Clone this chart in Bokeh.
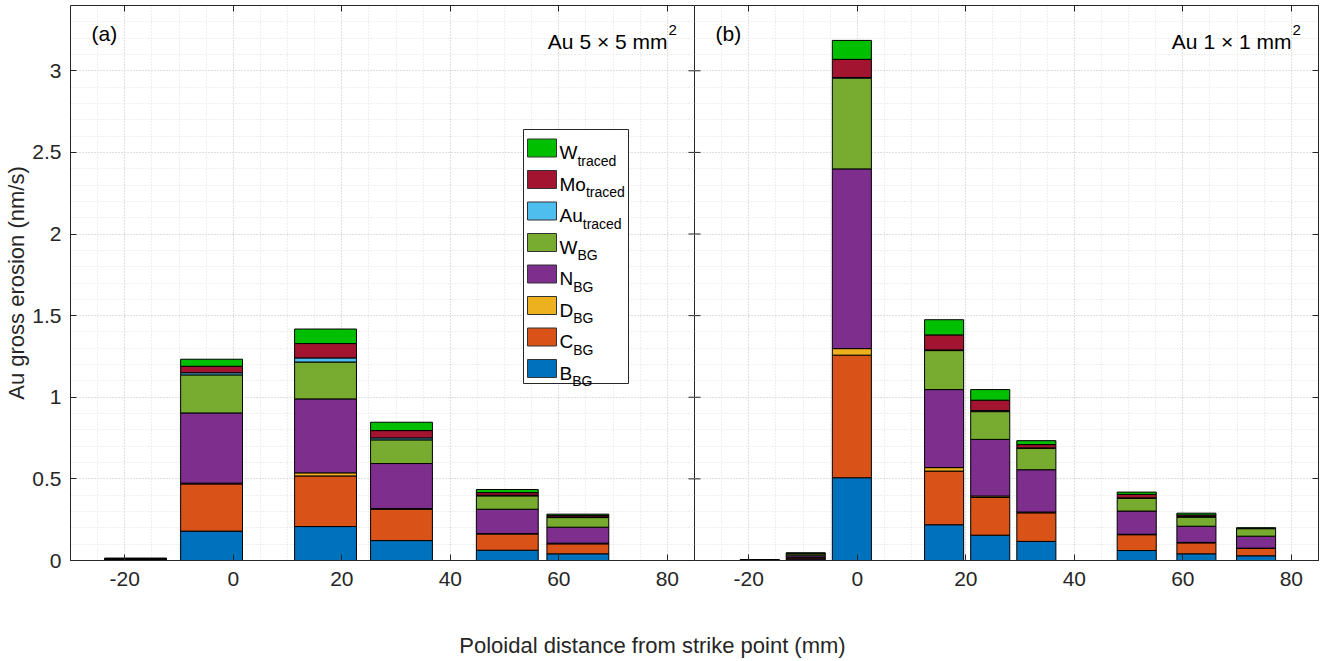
import numpy as np
from bokeh.plotting import figure
from bokeh.layouts import row, column
from bokeh.models import Range1d, FixedTicker, LinearAxis, CustomJSTickFormatter, ColumnDataSource
from bokeh.embed import file_html
from bokeh.resources import INLINE
from bokeh.core.properties import value

# ---------------- data ----------------
species = ["B_BG", "C_BG", "D_BG", "N_BG", "W_BG", "Au_traced", "Mo_traced", "W_traced"]
colors = ["#0072BD", "#D95319", "#EDB120", "#7E2F8E", "#77AC30", "#4DBEEE", "#A2142F", "#00BF00"]
x_ticks = [-20, 0, 20, 40, 60, 80]
y_ticks = [0, 0.5, 1, 1.5, 2, 2.5, 3]

# panel (a): Au 5 x 5 mm^2
pos_a = [-18, -4, 17, 31, 50.5, 63.5]
B_a = [0.004, 0.180, 0.208, 0.122, 0.063, 0.041]
C_a = [0.004, 0.289, 0.310, 0.192, 0.100, 0.061]
D_a = [0.001, 0.005, 0.019, 0.004, 0.002, 0.004]
N_a = [0.002, 0.430, 0.453, 0.276, 0.149, 0.098]
WBG_a = [0.001, 0.233, 0.226, 0.145, 0.082, 0.059]
Au_a = [0.0005, 0.013, 0.025, 0.012, 0.004, 0.004]
Mo_a = [0.0005, 0.040, 0.088, 0.045, 0.016, 0.009]
Wt_a = [0.0005, 0.043, 0.089, 0.051, 0.019, 0.008]

# panel (b): Au 1 x 1 mm^2
pos_b = [-18, -9.5, -1, 16, 24.5, 33, 51.5, 62.5, 73.5]
B_b = [0.001, 0.008, 0.507, 0.219, 0.155, 0.117, 0.061, 0.041, 0.029]
C_b = [0.001, 0.008, 0.751, 0.329, 0.231, 0.175, 0.097, 0.067, 0.045]
D_b = [0.0003, 0.001, 0.040, 0.021, 0.009, 0.005, 0.003, 0.003, 0.002]
N_b = [0.001, 0.012, 1.101, 0.478, 0.347, 0.259, 0.142, 0.099, 0.073]
WBG_b = [0.0005, 0.012, 0.556, 0.239, 0.170, 0.130, 0.077, 0.056, 0.046]
Au_b = [0.0002, 0.001, 0.004, 0.004, 0.006, 0.004, 0.004, 0.003, 0.001]
Mo_b = [0.0003, 0.002, 0.111, 0.092, 0.064, 0.020, 0.021, 0.010, 0.002]
Wt_b = [0.0003, 0.003, 0.116, 0.093, 0.065, 0.024, 0.014, 0.011, 0.002]

legend_main = ["W", "Mo", "Au", "W", "N", "D", "C", "B"]
legend_sub = ["traced", "traced", "traced", "BG", "BG", "BG", "BG", "BG"]
legend_colors = ["#00BF00", "#A2142F", "#4DBEEE", "#77AC30", "#7E2F8E", "#EDB120", "#D95319", "#0072BD"]

ylabel = "Au gross erosion (nm/s)"
xlabel = "Poloidal distance from strike point (mm)"

# ---------------- layout helpers ----------------
FONT = "Liberation Sans"
TXT = "#262626"
X0, X1, Y0, Y1 = -30, 85, 0, 3.4
FW, FH = 624, 555
FT = 5
FL_A, FL_B = 70, 694


def px_x(px, left):
    return X0 + (px - left) / FW * (X1 - X0)


def px_y(py):
    return Y1 - (py - FT) / FH * (Y1 - Y0)


xt = FixedTicker(ticks=x_ticks, minor_ticks=list(range(-30, 86, 5)))
yt = FixedTicker(ticks=y_ticks, minor_ticks=[round(0.1 * i, 1) for i in range(35)])
xfmt = "return String(Math.round(tick));"
yfmt = "return String(Math.round(tick*10)/10);"


def style_axis(ax, labels, fmt, standoff=7):
    ax.major_tick_in = 6
    ax.major_tick_out = 0
    ax.minor_tick_line_color = None
    ax.axis_line_color = TXT
    ax.major_tick_line_color = TXT
    ax.axis_line_width = 1
    ax.major_label_text_font = FONT
    ax.major_label_text_color = TXT
    if labels:
        ax.major_label_text_font_size = "21px"
        ax.major_label_standoff = standoff
        ax.formatter = CustomJSTickFormatter(code=fmt)
    else:
        ax.major_label_text_font_size = "0px"
        ax.major_label_standoff = 0
        ax.formatter = CustomJSTickFormatter(code="return '';")


def make_panel(pos, vals, width, mbl, mbr, first):
    p = figure(frame_width=FW, frame_height=FH,
               x_range=Range1d(X0, X1), y_range=Range1d(Y0, Y1),
               output_backend="svg", toolbar_location=None,
               y_axis_location="left" if first else "right",
               min_border_left=mbl, min_border_right=mbr,
               min_border_top=FT, min_border_bottom=45,
               outline_line_color=None if first else TXT, outline_line_width=1,
               background_fill_color="white", border_fill_color="white")
    p.xaxis.ticker = xt
    p.yaxis.ticker = yt
    for ax in p.xaxis:
        style_axis(ax, True, xfmt)
    for ax in p.yaxis:
        style_axis(ax, first, yfmt, standoff=5)
    top = LinearAxis(ticker=xt)
    style_axis(top, False, xfmt)
    p.add_layout(top, "above")

    for g in (p.xgrid, p.ygrid):
        g.grid_line_color = "#cfcfcf"
        g.grid_line_dash = "1 2"
        g.minor_grid_line_color = "#dedede"
        g.minor_grid_line_dash = "1 2"
    p.xgrid.ticker = xt
    p.ygrid.ticker = yt

    # inward tick marks on the inner (shared) edge
    edge = X1 if first else X0
    p.ray(x=[edge] * len(y_ticks), y=y_ticks, length=6, length_units="screen",
          angle=np.pi if first else 0.0, line_color=TXT, line_width=1)

    data = dict(x=pos)
    for s, v in zip(species, vals):
        data[s] = v
    src = ColumnDataSource(data)
    p.vbar_stack(species, x="x", width=width, fill_color=colors,
                 line_color="black", line_width=1, source=src)
    return p


p1 = make_panel(pos_a, [B_a, C_a, D_a, N_a, WBG_a, Au_a, Mo_a, Wt_a], 11.4, FL_A, 0, True)
p1.yaxis[0].axis_label = ylabel
p1.yaxis[0].axis_label_text_font = FONT
p1.yaxis[0].axis_label_text_font_size = "22px"
p1.yaxis[0].axis_label_text_font_style = "normal"
p1.yaxis[0].axis_label_text_color = TXT
p1.yaxis[0].axis_label_standoff = 0

p2 = make_panel(pos_b, [B_b, C_b, D_b, N_b, WBG_b, Au_b, Mo_b, Wt_b], 7.2, 0, 21, False)


# panel annotations
def annotate(p, left, tag, title):
    p.text(x=[px_x(left + 21, left)], y=[px_y(33)], text=[tag], text_align="left",
           text_baseline="middle", text_font=value(FONT), text_font_size="21px",
           text_color="black")
    p.text(x=[px_x(left + 597, left)], y=[px_y(41)], text=[title], text_align="right",
           text_baseline="alphabetic", text_font=value(FONT), text_font_size="21px",
           text_color="black")
    p.text(x=[px_x(left + 598, left)], y=[px_y(29)], text=["2"], text_align="left",
           text_baseline="alphabetic", text_font=value(FONT), text_font_size="15px",
           text_color="black")


annotate(p1, FL_A, "(a)", "Au 5 \u00d7 5 mm")
annotate(p2, FL_B, "(b)", "Au 1 \u00d7 1 mm")

# manual legend in panel (a) (subscripted labels)
char_w = {"W": 0.944, "M": 0.833, "o": 0.556, "A": 0.667, "u": 0.556,
          "N": 0.722, "D": 0.722, "C": 0.722, "B": 0.667}
p1.rect(x=[px_x(575.5, FL_A)], y=[px_y(256)], width=105, height=254,
        width_units="screen", height_units="screen",
        fill_color="white", line_color=TXT, line_width=1)
for i, (m, s, c) in enumerate(zip(legend_main, legend_sub, legend_colors)):
    cy = 147.5 + 31.5 * i
    p1.rect(x=[px_x(541.5, FL_A)], y=[px_y(cy)], width=29, height=18,
            width_units="screen", height_units="screen",
            fill_color=c, line_color="#333333", line_width=1)
    p1.text(x=[px_x(559, FL_A)], y=[px_y(cy + 4.5)], text=[m], text_align="left",
            text_baseline="alphabetic", text_font=value(FONT), text_font_size="19px",
            text_color="black")
    w = sum(char_w[ch] for ch in m) * 19
    p1.text(x=[px_x(559 + w, FL_A)], y=[px_y(cy + 12.5)], text=[s], text_align="left",
            text_baseline="alphabetic", text_font=value(FONT), text_font_size="14px",
            text_color="black")

# shared x label strip
pb = figure(width=1339, height=56, x_range=Range1d(0, 1339), y_range=Range1d(0, 56),
            output_backend="svg", toolbar_location=None,
            x_axis_location=None, y_axis_location=None, min_border=0,
            outline_line_color=None)
pb.grid.visible = False
pb.text(x=[652], y=[16], text=[xlabel], text_align="center", text_baseline="middle",
        text_font=value(FONT), text_font_size="22px", text_color=TXT)

layout = column(row(p1, p2), pb)
open("out.html", "w").write(file_html(layout, INLINE))
